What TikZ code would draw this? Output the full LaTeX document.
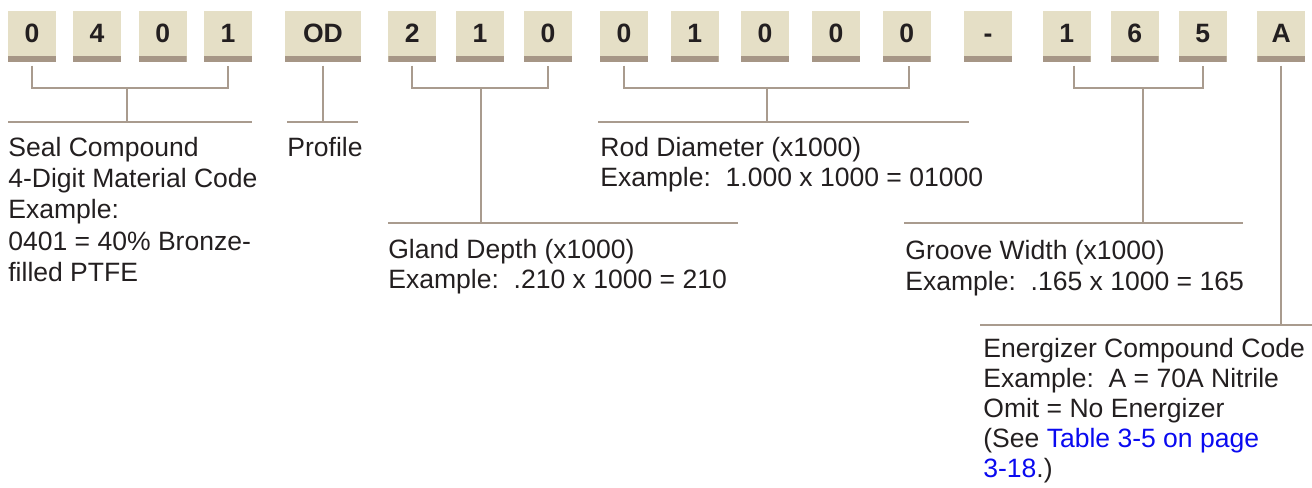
\documentclass[tikz,border=0pt]{standalone}
\usepackage{fontspec}
\setmainfont{Liberation Sans}
\usepackage{xcolor}
\usetikzlibrary{positioning, calc}
\definecolor{boxfill}{HTML}{E5DFC6}
\definecolor{barfill}{HTML}{A69686}
\definecolor{leadcol}{HTML}{A99B8E}
\definecolor{ink}{HTML}{231F20}
\definecolor{linkblue}{HTML}{0A0AF0}
\frenchspacing

\begin{document}
\begin{tikzpicture}[x=0.02cm, y=-0.02cm, font=\fontsize{15.1}{17.5}\selectfont,
    digit/.style={fill=boxfill, minimum width=0.96cm, minimum height=1.014cm, inner sep=0pt,
        text height=0.72em, text depth=0pt, font=\fontsize{15.1}{17.5}\selectfont\bfseries, text=ink,
        path picture={\fill[barfill] (path picture bounding box.south west) rectangle ([yshift=0.11cm]path picture bounding box.south east);}},
    note/.style={anchor=north west, inner sep=0pt, align=left, text=ink},
    lead/.style={draw=leadcol, line width=1.3pt}
]
\useasboundingbox (0,0) rectangle (1312,487);

% part number boxes
\node[digit] (m1) at (32,36.35) {0};
\node[digit] (m2) at (97,36.35) {4};
\node[digit] (m3) at (162.7,36.35) {0};
\node[digit] (m4) at (228,36.35) {1};
\node[digit, minimum width=1.52cm] (od) at (323,36.35) {OD};
\node[digit] (g1) at (412.3,36.35) {2};
\node[digit] (g2) at (480,36.35) {1};
\node[digit] (g3) at (548,36.35) {0};
\node[digit] (d1) at (624,36.35) {0};
\node[digit] (d2) at (694.7,36.35) {1};
\node[digit] (d3) at (765,36.35) {0};
\node[digit] (d4) at (836,36.35) {0};
\node[digit] (d5) at (906.7,36.35) {0};
\node[digit] (dash) at (988,36.35) {-};
\node[digit] (w1) at (1066.7,36.35) {1};
\node[digit] (w2) at (1134.7,36.35) {6};
\node[digit] (w3) at (1202.7,36.35) {5};
\node[digit] (en) at (1281.3,36.35) {A};

% descriptions
\node[note, font=\fontsize{15.1}{17.9}\selectfont] (seal) at (8,136.5) {Seal Compound\\4-Digit Material Code\\Example:\\0401 = 40\% Bronze-\\filled PTFE};
\node[note] (prof) at (287,136.5) {Profile};
\node[note] (rod) at (600,136.5) {Rod Diameter (x1000)\\Example:~~1.000 x 1000 = 01000};
\node[note] (gland) at (388,238.5) {Gland Depth (x1000)\\Example:~~.210 x 1000 = 210};
\node[note] (groove) at (905,240) {Groove Width (x1000)\\Example:~~.165 x 1000 = 165};
\node[note, font=\fontsize{15.1}{17}\selectfont] (energ) at (983,338.3) {Energizer Compound Code\\Example:~~A = 70A Nitrile\\Omit = No Energizer\\(See \textcolor{linkblue}{Table 3-5 on page}\\\textcolor{linkblue}{3-18}.)};

% rules above the descriptions
\coordinate (sealL) at (8,122);
\coordinate (sealR) at (252,122);
\coordinate (profL) at (287,122);
\coordinate (profR) at (358,122);
\coordinate (rodL) at (598,122);
\coordinate (rodR) at (969,122);
\coordinate (glandL) at (388,223.3);
\coordinate (glandR) at (738,223.3);
\coordinate (grooveL) at (904,223.3);
\coordinate (grooveR) at (1243,223.3);
\coordinate (energL) at (980,325);
\coordinate (energR) at (1312,325);

% bracket joints
\coordinate (jm) at (126.7,88);
\coordinate (jg) at (481,88);
\coordinate (jd) at (766.7,88);
\coordinate (jw) at (1142.7,88);

\draw[lead] ([yshift=-0.07cm]m1.south) -- (m1.south |- jm) -- (m4.south |- jm) -- ([yshift=-0.07cm]m4.south);
\draw[lead] (jm) -- (jm |- sealL);
\draw[lead] (sealL) -- (sealR);

\draw[lead] ([yshift=-0.07cm]od.south) -- (od.south |- profL);
\draw[lead] (profL) -- (profR);

\draw[lead] ([yshift=-0.07cm]g1.south) -- (g1.south |- jg) -- (g3.south |- jg) -- ([yshift=-0.07cm]g3.south);
\draw[lead] (jg) -- (jg |- glandL);
\draw[lead] (glandL) -- (glandR);

\draw[lead] ([yshift=-0.07cm]d1.south) -- (d1.south |- jd) -- ([xshift=0.05cm]d5.south |- jd) -- ([xshift=0.05cm, yshift=-0.07cm]d5.south);
\draw[lead] (jd) -- (jd |- rodL);
\draw[lead] (rodL) -- (rodR);

\draw[lead] ([xshift=0.15cm, yshift=-0.07cm]w1.south) -- ([xshift=0.15cm]w1.south |- jw) -- (w3.south |- jw) -- ([yshift=-0.07cm]w3.south);
\draw[lead] (jw) -- (jw |- grooveL);
\draw[lead] (grooveL) -- (grooveR);

\draw[lead] ([yshift=-0.07cm]en.south) -- (en.south |- energL);
\draw[lead] (energL) -- (energR);
\end{tikzpicture}
\end{document}
